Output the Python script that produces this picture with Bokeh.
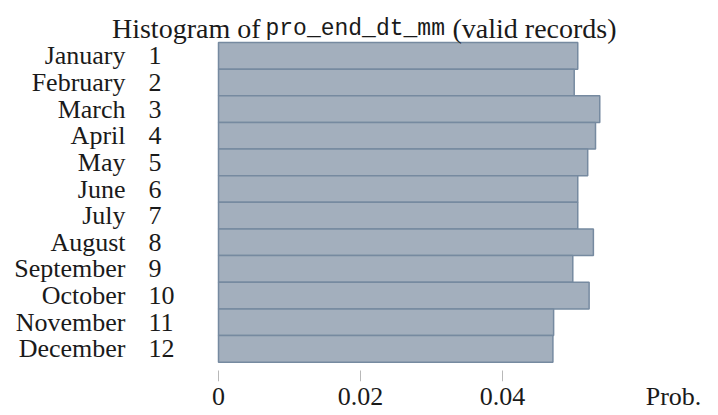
from bokeh.plotting import figure
from bokeh.models import ColumnDataSource, Range1d, FixedTicker, Label
from bokeh.core.properties import value
from bokeh.embed import file_html
from bokeh.resources import INLINE

# ---- data ----
months = ["January", "February", "March", "April", "May", "June", "July",
          "August", "September", "October", "November", "December"]
month_nums = ["1", "2", "3", "4", "5", "6", "7", "8", "9", "10", "11", "12"]
prob = [0.0506, 0.0501, 0.0537, 0.0531, 0.0520, 0.0506, 0.0506,
        0.0528, 0.0499, 0.0522, 0.0472, 0.0471]
x_ticks = [0, 0.02, 0.04]
x_tick_labels = ["0", "0.02", "0.04"]
title_parts = ["Histogram of", "pro_end_dt_mm", "(valid records)"]
x_axis_title = "Prob."

# ---- layout constants (pixels) ----
PX = 7100.0          # pixels per unit of probability
X0 = 218.0           # canvas x of value 0
W = 702
FRAME_H = 381
ROW_PX = 26.64       # pixels per bar row
BAR_TOP = 42.0       # canvas y of the top of the first bar
BAR_BOT = BAR_TOP + ROW_PX * len(months)

def xs(px):          # canvas x -> data x
    return (px - X0) / PX

def ys(py):          # canvas y -> data y (rows, flipped)
    return 0.5 + (py - BAR_TOP) / ROW_PX

rows = list(range(1, len(months) + 1))
source = ColumnDataSource(dict(y=rows, right=prob, month=months, num=month_nums))

SERIF = value("Liberation Serif")
TXT = "#1a1a1a"

p = figure(frame_width=W, frame_height=FRAME_H,
           x_range=Range1d(xs(0), xs(W)),
           y_range=Range1d(ys(FRAME_H), ys(0)),
           output_backend="svg", toolbar_location=None,
           y_axis_location=None, min_border=0,
           min_border_left=0, min_border_right=0, min_border_top=0, min_border_bottom=0)
p.outline_line_color = None
p.xgrid.grid_line_color = None
p.ygrid.grid_line_color = None
p.background_fill_color = "white"
p.border_fill_color = "white"

p.hbar(y="y", left=0, right="right", height=1, source=source,
       fill_color="#a3afbd", line_color="#768aa0", line_width=1.5)

p.text(x=xs(125), y="y", text="month", source=source, text_align="right",
       text_baseline="middle", text_font=SERIF, text_font_size="26px", text_color=TXT)
p.text(x=xs(148), y="y", text="num", source=source, text_align="left",
       text_baseline="middle", text_font=SERIF, text_font_size="26px", text_color=TXT)

# tick marks at the tick values, drawn in the data space just under the bars
p.segment(x0=x_ticks, x1=x_ticks, y0=ys(370), y1=ys(381),
          line_color="#b8b8b8", line_width=1)

# title (serif + monospace + serif)
ty = ys(28)
p.add_layout(Label(x=xs(260), y=ty, text=title_parts[0], text_align="right",
                   text_baseline="alphabetic", text_font="Liberation Serif",
                   text_font_size="28px", text_color=TXT))
p.add_layout(Label(x=xs(265), y=ty, text=title_parts[1], text_align="left",
                   text_baseline="alphabetic", text_font="Liberation Mono",
                   text_font_size="23px", text_color=TXT))
p.add_layout(Label(x=xs(452), y=ty, text=title_parts[2], text_align="left",
                   text_baseline="alphabetic", text_font="Liberation Serif",
                   text_font_size="28px", text_color=TXT))

# x axis: tick labels plus the axis title on the same baseline
prob_pos = xs(673)
ax = p.xaxis[0]
ax.ticker = FixedTicker(ticks=x_ticks + [prob_pos])
overrides = {t: s for t, s in zip(x_ticks, x_tick_labels)}
overrides[prob_pos] = x_axis_title
ax.major_label_overrides = overrides
ax.axis_line_color = None
ax.minor_tick_line_color = None
ax.major_tick_line_color = None
ax.major_tick_in = 0
ax.major_tick_out = 0
ax.major_label_standoff = 0
ax.major_label_text_font = "Liberation Serif"
ax.major_label_text_font_size = "26px"
ax.major_label_text_color = TXT

open("out.html", "w").write(file_html(p, INLINE))
